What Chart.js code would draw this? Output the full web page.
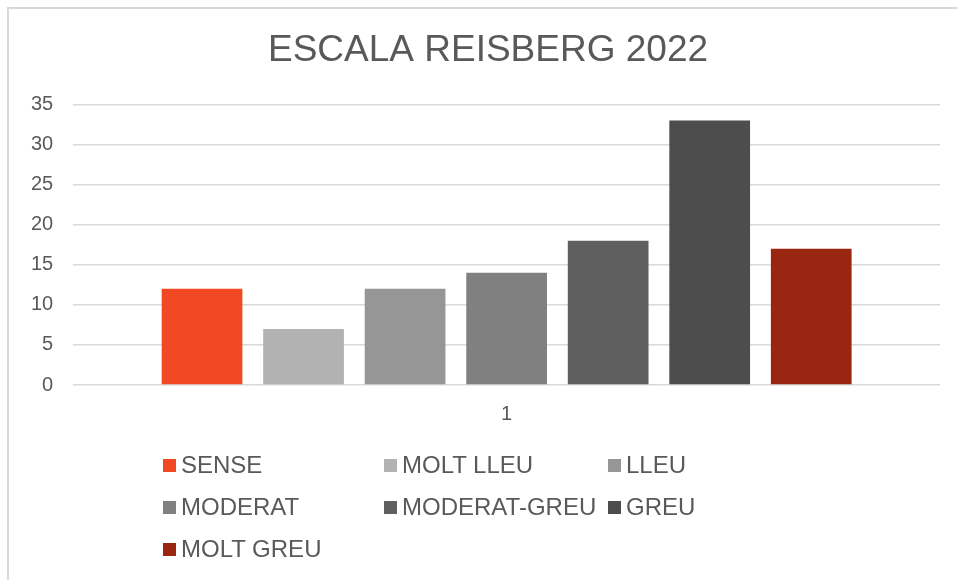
<!DOCTYPE html>
<html>
<head>
<meta charset="utf-8">
<script src="https://cdn.jsdelivr.net/npm/chart.js@4.4.1/dist/chart.umd.min.js"></script>
<style>
  html, body { margin: 0; padding: 0; background: #fff; }
  body { width: 957px; height: 580px; position: relative; overflow: hidden; font-family: 'Liberation Sans', Arial, sans-serif; }
  #frame { position: absolute; left: 7px; top: 7px; width: 1000px; height: 600px; border-top: 2px solid #d9d9d9; border-left: 2px solid #d9d9d9; }
  #wrap { position: absolute; left: 0; top: 0; width: 957px; height: 580px; }
  #legend { position: absolute; left: 163px; top: 444px; display: grid; grid-template-columns: 221px 224px 120px; grid-auto-rows: 42px; }
  .item { display: flex; align-items: center; white-space: nowrap; font-size: 24px; color: #595959; }
  .swatch { width: 13px; height: 13px; margin-right: 5px; flex: none; }
</style>
</head>
<body>
<div id="frame"></div>
<div id="wrap"><canvas id="chart" width="957" height="580"></canvas></div>
<div id="legend"></div>
<script>
// chart data
const categories = ['1'];
const seriesNames = ['SENSE', 'MOLT LLEU', 'LLEU', 'MODERAT', 'MODERAT-GREU', 'GREU', 'MOLT GREU'];
const seriesValues = [12, 7, 12, 14, 18, 33, 17];
const seriesColors = ['#f04923', '#b2b2b2', '#969696', '#808080', '#5f5f5f', '#4d4d4d', '#9a2510'];
const yMax = 35;
const yStep = 5;

const textColor = '#595959';
const gridColor = '#d9d9d9';

const datasets = seriesNames.map((name, i) => ({
    label: name,
    data: [seriesValues[i]],
    backgroundColor: seriesColors[i],
    borderWidth: 0,
    categoryPercentage: 0.82,
    barPercentage: 0.795
}));

// nudge the title a bit to the right, the original is not centred on the canvas
const titleShift = {
    id: 'titleShift',
    afterLayout(chart) {
        if (chart.titleBlock) chart.titleBlock.left += 25;
    }
};

const chart = new Chart(document.getElementById('chart'), {
    type: 'bar',
    data: { labels: categories, datasets: datasets },
    plugins: [titleShift],
    options: {
        responsive: false,
        animation: false,
        layout: { padding: { left: 11, right: 17, top: 0, bottom: 137 } },
        plugins: {
            legend: { display: false },
            tooltip: { enabled: false },
            title: {
                display: true,
                text: 'ESCALA REISBERG 2022',
                color: textColor,
                font: { family: 'Liberation Sans', size: 37, weight: 'normal', lineHeight: 1.2 },
                padding: { top: 29, bottom: 31 }
            }
        },
        scales: {
            x: {
                grid: { display: false, drawTicks: false },
                border: { display: false },
                ticks: { color: textColor, padding: 17, font: { family: 'Liberation Sans', size: 20 } }
            },
            y: {
                min: 0,
                max: yMax,
                grid: { color: gridColor, lineWidth: 1.5, drawTicks: false },
                border: { display: false },
                ticks: { stepSize: yStep, color: textColor, padding: 20, font: { family: 'Liberation Sans', size: 20 } }
            }
        }
    }
});

// html legend built from the chart datasets
const legendEl = document.getElementById('legend');
chart.data.datasets.forEach(ds => {
    const item = document.createElement('div');
    item.className = 'item';
    const sw = document.createElement('span');
    sw.className = 'swatch';
    sw.style.background = ds.backgroundColor;
    const label = document.createElement('span');
    label.textContent = ds.label;
    item.appendChild(sw);
    item.appendChild(label);
    legendEl.appendChild(item);
});
</script>
</body>
</html>
